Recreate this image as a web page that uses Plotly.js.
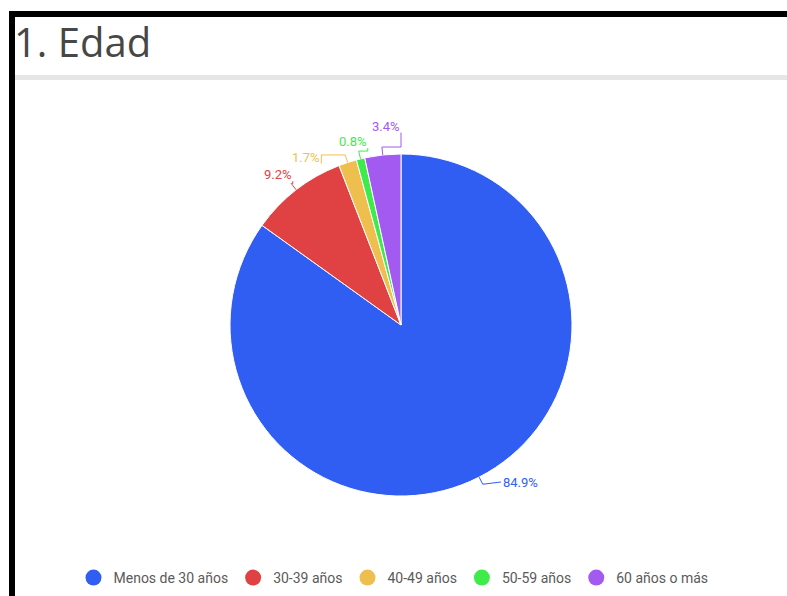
<!DOCTYPE html>
<html>
<head>
<meta charset="utf-8">
<script src="https://cdn.plot.ly/plotly-3.0.1.min.js"></script>
<style>
  html, body { margin:0; padding:0; background:#fff; width:787px; height:596px; overflow:hidden; }
  #chart { position:absolute; left:0; top:0; width:787px; height:596px; }
  .bar { position:absolute; background:#000; z-index:10; }
  #rule { position:absolute; left:15px; top:75px; width:772px; height:5px; background:#e6e6e6; z-index:5; }
</style>
</head>
<body>
<div id="chart"></div>
<div class="bar" style="left:9px; top:11px; width:778px; height:6px;"></div>
<div class="bar" style="left:9px; top:11px; width:6px; height:585px;"></div>
<div id="rule"></div>
<script>
const categories = ["Menos de 30 años", "30-39 años", "40-49 años", "50-59 años", "60 años o más"];
const percentages = [84.9, 9.2, 1.7, 0.8, 3.4];
const sliceColors = ["#305df2", "#e04244", "#eebf4f", "#3feb4b", "#a35af0"];
const chartTitle = "1. Edad";

const W = 787, H = 596;
const cx = 401, cy = 325, R = 171;
const labelR = 182, labelRx = 180, lineOut = 8, labelStep = 15.5, labelBox = 22;

// pixel -> paper
const px = x => x / W;
const py = y => 1 - y / H;

const total = percentages.reduce((a, b) => a + b, 0);
let acc = 0;
const items = percentages.map((v, i) => {
  const mid = (acc + v / 2) / total * 2 * Math.PI; // clockwise from top
  acc += v;
  const s = Math.sin(mid), c = Math.cos(mid);
  const left = s < 0, upper = c > 0;
  let want = cy - labelR * c;
  if (!upper) want = Math.min(want, cy + R - labelBox);
  return { i, v, s, c, left, upper, want };
});

// simple vertical de-overlap per side
function resolve(list) {
  list.sort((a, b) => a.want - b.want);
  let clusters = list.map(it => ({ members: [it] }));
  const place = cl => {
    const m = cl.members.reduce((a, b) => a + b.want, 0) / cl.members.length;
    const n = cl.members.length;
    cl.members.forEach((it, k) => { it.y = m + (k - (n - 1) / 2) * labelStep; });
    cl.top = cl.members[0].y; cl.bot = cl.members[n - 1].y;
  };
  clusters.forEach(place);
  let changed = true;
  while (changed) {
    changed = false;
    for (let k = 0; k < clusters.length - 1; k++) {
      if (clusters[k + 1].top - clusters[k].bot < labelStep) {
        clusters[k].members = clusters[k].members.concat(clusters[k + 1].members);
        clusters.splice(k + 1, 1);
        place(clusters[k]);
        changed = true; break;
      }
    }
  }
}
resolve(items.filter(it => it.left));
resolve(items.filter(it => !it.left));

const annotations = [], shapes = [];
items.forEach(it => {
  const dy = Math.abs(it.y - cy);
  const dx = dy >= labelRx ? 0 : Math.sqrt(labelRx * labelRx - dy * dy);
  const x = it.left ? cx - dx : cx + dx;
  annotations.push({
    xref: "paper", yref: "paper", x: px(x), y: py(it.y),
    xanchor: it.left ? "right" : "left", yanchor: it.upper ? "bottom" : "top",
    yshift: it.upper ? -2 : 0,
    text: it.v.toFixed(1) + "%", showarrow: false, borderpad: 0,
    font: { family: "Roboto", size: 13, color: sliceColors[it.i] }
  });
  const ex = cx + R * it.s, ey = cy - R * it.c;
  const ox = cx + (R + lineOut) * it.s, oy = cy - (R + lineOut) * it.c;
  const endY = it.upper ? it.y : it.y + 8;
  const endX = it.upper ? x : x - 1;
  const path = it.upper
    ? `M${px(ex)},${py(ey)} L${px(ox)},${py(oy)} L${px(endX)},${py(oy)} L${px(endX)},${py(endY)}`
    : `M${px(ex)},${py(ey)} L${px(ox)},${py(oy)} L${px(endX)},${py(endY)}`;
  shapes.push({ type: "path", xref: "paper", yref: "paper", path,
                line: { color: sliceColors[it.i], width: 1 } });
});

const pie = {
  type: "pie",
  values: percentages,
  labels: categories,
  sort: false,
  direction: "clockwise",
  rotation: 0,
  marker: { colors: sliceColors, line: { color: "#ffffff", width: 1 } },
  textinfo: "none",
  hoverinfo: "label+percent",
  showlegend: false,
  domain: { x: [px(cx - R), px(cx + R)], y: [py(cy + R), py(cy - R)] }
};

const legendTraces = categories.map((c, i) => ({
  type: "scatter", mode: "markers", x: [null], y: [null], name: c,
  marker: { symbol: "circle", size: 16, color: sliceColors[i] },
  showlegend: true, hoverinfo: "skip"
}));

const layout = {
  width: W, height: H,
  margin: { l: 0, r: 0, t: 0, b: 0 },
  paper_bgcolor: "#ffffff", plot_bgcolor: "#ffffff",
  title: { text: chartTitle, x: 14 / W, xref: "container", xanchor: "left",
           y: 1 - 43 / H, yref: "container", yanchor: "middle",
           font: { family: "Open Sans", size: 40, color: "#474747" } },
  xaxis: { visible: false }, yaxis: { visible: false },
  showlegend: true,
  legend: { orientation: "h", x: 0.5, xanchor: "center", y: (H - 578) / H, yanchor: "middle",
            font: { family: "Roboto", size: 14, color: "#5a5a5a" }, itemclick: false },
  annotations, shapes
};

Plotly.newPlot("chart", [pie].concat(legendTraces), layout, { displayModeBar: false, staticPlot: true });
</script>
</body>
</html>
